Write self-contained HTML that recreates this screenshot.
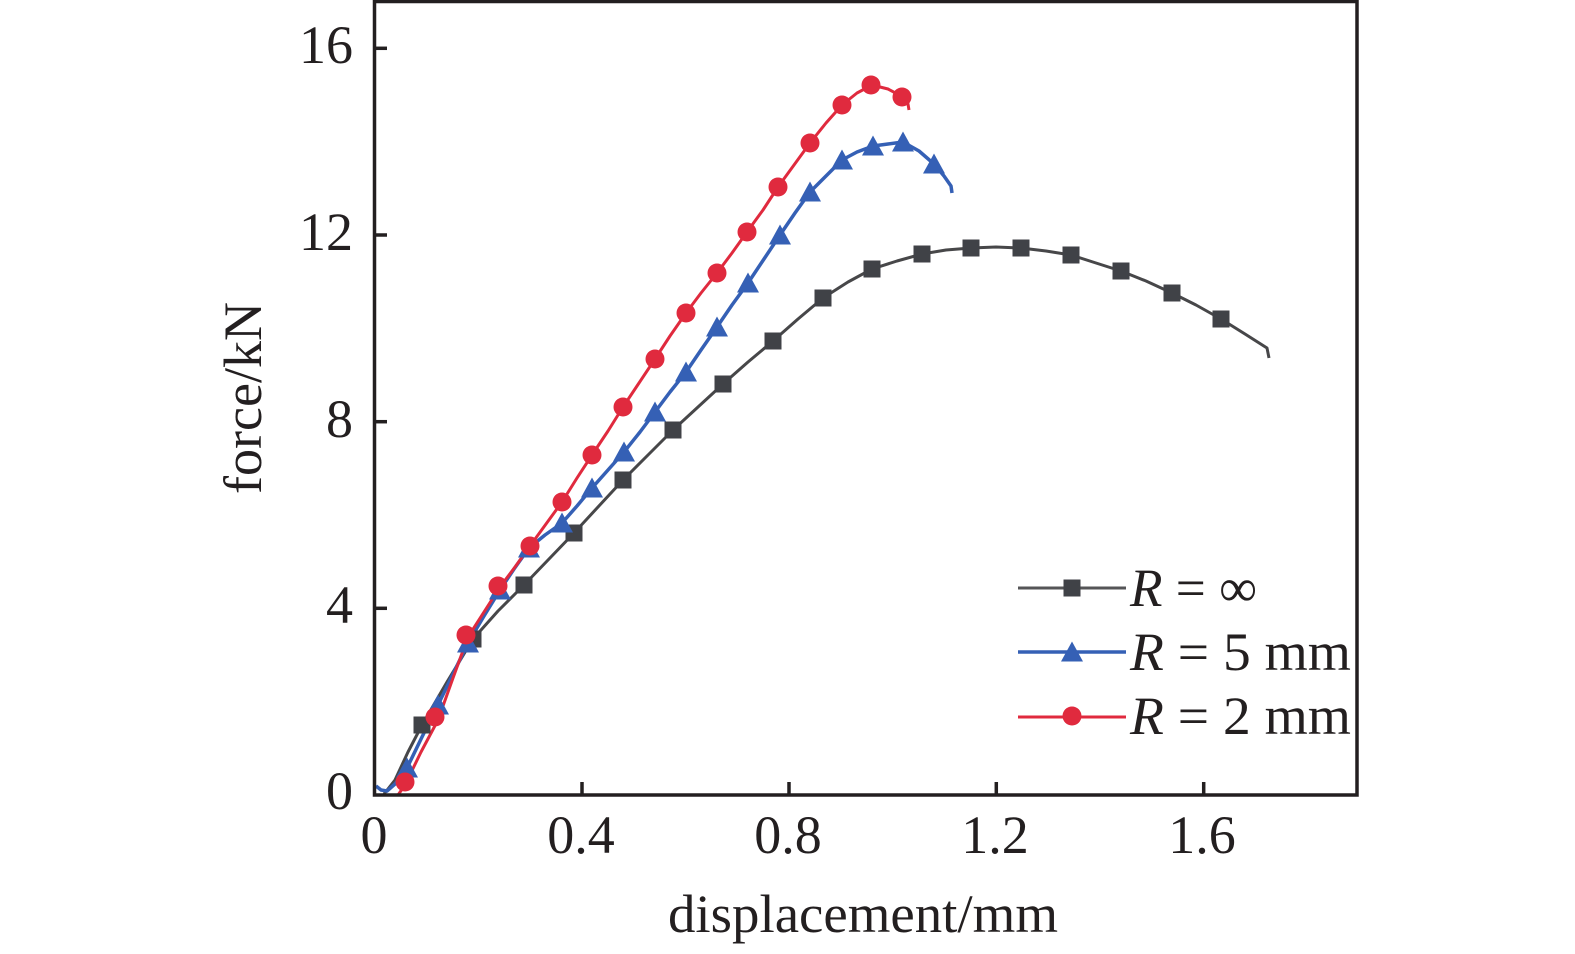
<!DOCTYPE html>
<html>
<head>
<meta charset="utf-8">
<style>
html,body{margin:0;padding:0;background:#fff;}
svg{display:block;}
text{font-family:"Liberation Serif","Times New Roman",serif;fill:#231f20;}
</style>
</head>
<body>
<svg width="1575" height="954" viewBox="0 0 1575 954" xmlns="http://www.w3.org/2000/svg">
<rect x="0" y="0" width="1575" height="954" fill="#fff"/>
<defs>
<rect id="sq" x="-8.5" y="-8.5" width="17" height="17" fill="#404247"/>
<polygon id="tri" points="0,-11.5 11,8.5 -11,8.5" fill="#3560b5"/>
<circle id="ci" r="9.5" fill="#e02a3e"/>
</defs>

<!-- series lines -->
<polyline fill="none" stroke="#474749" stroke-width="3" stroke-linejoin="round"
 points="384,794 395,780 408,752 422,725 447,682 473,639 498,611 524,585 549,559 574,533 598,507 623,480 648,455 673,430 698,407 723,384 748,362 773,341 798,319 823,298 848,282 872,269 897,261 922,254 946,250 971,248 996,247 1021,248 1046,251 1071,255 1096,263 1121,271 1146,281 1172,293 1196,305 1221,319 1245,334 1267,348 1269,358"/>
<polyline fill="none" stroke="#3560b5" stroke-width="3.5" stroke-linejoin="round"
 points="376,786 381,790 387,791 395,784 407,768 422,737 438,705 453,674 468,643 484,616 500,590 514,569 529,548 545,535 562,523 577,506 592,488 608,470 624,452 640,432 655,412 670,392 686,372 701,350 717,327 732,305 748,283 764,259 780,235 795,213 810,192 826,176 842,160 857,152 873,146 888,144 903,142 919,151 934,164 944,176 951,186 952,193"/>
<polyline fill="none" stroke="#e02a3e" stroke-width="3" stroke-linejoin="round"
 points="398,795 405,785 421,752 438,720 453,678 468,637 484,612 500,587 515,567 530,546 546,524 562,502 577,478 592,455 608,431 623,407 639,383 655,359 670,336 686,313 701,293 717,273 732,253 747,232 763,210 778,187 794,165 810,143 826,123 842,105 857,93 872,85 888,89 903,97 908,104 909,110"/>

<!-- markers -->
<g>
<use href="#sq" x="422" y="725"/><use href="#sq" x="473" y="639"/><use href="#sq" x="524" y="585"/><use href="#sq" x="574" y="533"/><use href="#sq" x="623" y="480"/><use href="#sq" x="673" y="430"/><use href="#sq" x="723" y="384"/><use href="#sq" x="773" y="341"/><use href="#sq" x="823" y="298"/><use href="#sq" x="872" y="269"/><use href="#sq" x="922" y="254"/><use href="#sq" x="971" y="248"/><use href="#sq" x="1021" y="248"/><use href="#sq" x="1071" y="255"/><use href="#sq" x="1121" y="271"/><use href="#sq" x="1172" y="293"/><use href="#sq" x="1221" y="319"/>
</g>
<g>
<use href="#tri" x="407" y="769"/><use href="#tri" x="438" y="706"/><use href="#tri" x="468" y="644"/><use href="#tri" x="500" y="591"/><use href="#tri" x="529" y="549"/><use href="#tri" x="562" y="524"/><use href="#tri" x="592" y="489"/><use href="#tri" x="624" y="453"/><use href="#tri" x="655" y="413"/><use href="#tri" x="686" y="373"/><use href="#tri" x="717" y="328"/><use href="#tri" x="748" y="284"/><use href="#tri" x="780" y="236"/><use href="#tri" x="810" y="193"/><use href="#tri" x="842" y="161"/><use href="#tri" x="873" y="147"/><use href="#tri" x="903" y="143"/><use href="#tri" x="934" y="165"/>
</g>
<g>
<use href="#ci" x="405" y="782"/><use href="#ci" x="435" y="717"/><use href="#ci" x="466" y="635"/><use href="#ci" x="498" y="586"/><use href="#ci" x="530" y="546"/><use href="#ci" x="562" y="502"/><use href="#ci" x="592" y="455"/><use href="#ci" x="623" y="407"/><use href="#ci" x="655" y="359"/><use href="#ci" x="686" y="313"/><use href="#ci" x="717" y="273"/><use href="#ci" x="747" y="232"/><use href="#ci" x="778" y="187"/><use href="#ci" x="810" y="143"/><use href="#ci" x="842" y="105"/><use href="#ci" x="871" y="85"/><use href="#ci" x="902" y="97"/>
</g>

<!-- axes box -->
<rect x="374.5" y="1.5" width="982.5" height="793.5" fill="none" stroke="#231f20" stroke-width="3.5"/>
<g stroke="#231f20" stroke-width="3.5">
<line x1="374" y1="48.3" x2="387" y2="48.3"/>
<line x1="374" y1="235" x2="387" y2="235"/>
<line x1="374" y1="421.7" x2="387" y2="421.7"/>
<line x1="374" y1="608.3" x2="387" y2="608.3"/>
<line x1="582" y1="795" x2="582" y2="782"/>
<line x1="789" y1="795" x2="789" y2="782"/>
<line x1="996.3" y1="795" x2="996.3" y2="782"/>
<line x1="1203.7" y1="795" x2="1203.7" y2="782"/>
</g>

<!-- tick labels -->
<g font-size="54" text-anchor="end">
<text x="353" y="63">16</text>
<text x="353" y="250">12</text>
<text x="353" y="437">8</text>
<text x="353" y="623">4</text>
<text x="353" y="809">0</text>
</g>
<g font-size="54" text-anchor="middle">
<text x="374" y="853">0</text>
<text x="581" y="853">0.4</text>
<text x="788" y="853">0.8</text>
<text x="995" y="853">1.2</text>
<text x="1202" y="853">1.6</text>
</g>

<!-- axis labels -->
<text x="668" y="932" font-size="54" textLength="390" lengthAdjust="spacingAndGlyphs">displacement/mm</text>
<text transform="translate(261,398) rotate(-90)" font-size="54" text-anchor="middle">force/kN</text>

<!-- legend -->
<line x1="1018" y1="588" x2="1126" y2="588" stroke="#555557" stroke-width="3"/>
<use href="#sq" x="1072" y="588"/>
<line x1="1018" y1="652" x2="1126" y2="652" stroke="#3560b5" stroke-width="3.5"/>
<use href="#tri" x="1072" y="653"/>
<line x1="1018" y1="717" x2="1126" y2="717" stroke="#e02a3e" stroke-width="3"/>
<use href="#ci" x="1072" y="716"/>
<g font-size="54">
<text x="1130" y="606" textLength="127" lengthAdjust="spacingAndGlyphs"><tspan font-style="italic">R</tspan> = ∞</text>
<text x="1130" y="670" textLength="221" lengthAdjust="spacingAndGlyphs"><tspan font-style="italic">R</tspan> = 5 mm</text>
<text x="1130" y="734" textLength="221" lengthAdjust="spacingAndGlyphs"><tspan font-style="italic">R</tspan> = 2 mm</text>
</g>
</svg>
</body>
</html>
